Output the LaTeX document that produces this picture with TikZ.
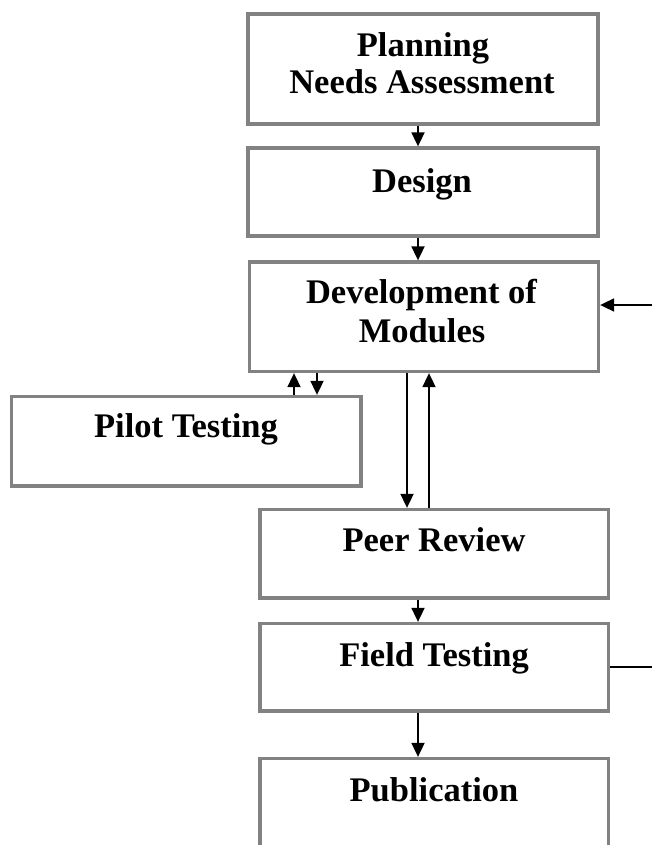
\documentclass[tikz,border=0pt]{standalone}
\usepackage{fontspec}
\setmainfont{Liberation Serif}
\usetikzlibrary{arrows.meta}
\definecolor{boxgray}{RGB}{130,130,130}
\begin{document}
\begin{tikzpicture}[x=1pt,y=-1pt,
  box/.style={draw=boxgray, line width=3.3pt, inner sep=0pt, rectangle},
  lbl/.style={font=\fontsize{34.5}{38}\selectfont\bfseries, anchor=base, inner sep=0pt},
  arr/.style={line width=1.8pt, -{Triangle[length=14pt,width=13pt]}},
  ln/.style={line width=1.8pt}]
\useasboundingbox (0,0) rectangle (652,845);
\clip (0,0) rectangle (652,845);
% boxes
\node[box, minimum width=350pt, minimum height=110pt] (plan) at (423,69) {};
\node[box, minimum width=350pt, minimum height=88pt] (design) at (423,192) {};
\node[box, minimum width=349pt, minimum height=109.5pt] (dev) at (424,316.75) {};
\node[box, minimum width=349.5pt, minimum height=89.5pt] (pilot) at (186.25,441.25) {};
\node[box, minimum width=348.5pt, minimum height=88.5pt] (peer) at (434.25,553.75) {};
\node[box, minimum width=348.5pt, minimum height=87.5pt] (field) at (434.25,667.25) {};
\node[box, minimum width=348.5pt, minimum height=140pt] (pub) at (434.25,828.5) {};
% labels
\node[lbl] (planA) at (423,56.7) {Planning};
\node[lbl] (planB) at (422,94) {Needs Assessment};
\node[lbl] (designT) at (422,192) {Design};
\node[lbl] (devA) at (421.5,303) {Development of};
\node[lbl] (devB) at (422,342.7) {Modules};
\node[lbl] (pilotT) at (186,437.7) {Pilot Testing};
\node[lbl] (peerT) at (434,551.7) {Peer Review};
\node[lbl] (fieldT) at (434,666) {Field Testing};
\node[lbl] (pubT) at (434,801.7) {Publication};
% connector coordinates
\coordinate (cx) at (418,0);
\coordinate (pu) at (294,0);
\coordinate (pd) at (317,0);
\coordinate (rd) at (407,0);
\coordinate (ru) at (429,0);
\coordinate (fbin) at (660,305);
\coordinate (fbout) at (660,667);
% connectors
\draw[arr] (plan.south -| cx) -- (design.north -| cx);
\draw[arr] (design.south -| cx) -- (dev.north -| cx);
\draw[arr] (pilot.north -| pu) -- (dev.south -| pu);
\draw[arr] (dev.south -| pd) -- (pilot.north -| pd);
\draw[arr] (dev.south -| rd) -- (peer.north -| rd);
\draw[arr] (peer.north -| ru) -- (dev.south -| ru);
\draw[arr] (peer.south -| cx) -- (field.north -| cx);
\draw[arr] (field.south -| cx) -- (pub.north -| cx);
\draw[arr] (fbin) -- (dev.east |- fbin);
\draw[ln] (field.east |- fbout) -- (fbout);
\end{tikzpicture}
\end{document}
